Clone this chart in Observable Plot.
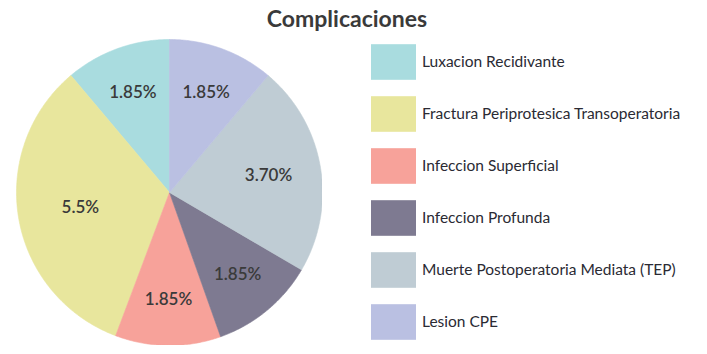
<!DOCTYPE html>
<html>
<head>
<meta charset="utf-8">
<script src="https://cdn.jsdelivr.net/npm/d3@7"></script>
<script src="https://cdn.jsdelivr.net/npm/@observablehq/plot@0.6"></script>
<style>
  html, body { margin: 0; padding: 0; background: #fff; }
  #wrap { position: relative; width: 707px; height: 354px; font-family: Lato, "Open Sans", sans-serif; }
  #title { position: absolute; left: 0; top: 4px; width: 694px; text-align: center; font-size: 23px; font-weight: 700; color: #3a3a3a; }
  #pie { position: absolute; left: 16px; top: 39px; }
  #legend { position: absolute; left: 360px; top: 0; }
</style>
</head>
<body>
<div id="wrap">
  <div id="title">Complicaciones</div>
  <div id="pie"></div>
  <div id="legend"></div>
</div>
<script>
const categories = ["Luxacion Recidivante", "Fractura Periprotesica Transoperatoria", "Infeccion Superficial", "Infeccion Profunda", "Muerte Postoperatoria Mediata (TEP)", "Lesion CPE"];
const values = [1.85, 5.5, 1.85, 1.85, 3.70, 1.85];
const valueLabels = ["1.85%", "5.5%", "1.85%", "1.85%", "3.70%", "1.85%"];
const colors = ["#a9dcdf", "#e8e69d", "#f7a29a", "#7e7a91", "#bfccd4", "#bac0e2"];

const rows = categories.map((c, i) => ({name: c, value: values[i], label: valueLabels[i]}));

// Pie angles: counter-clockwise from 12 o'clock, in category order
const arcs = d3.pie().sort(null).value(d => d.value).startAngle(0).endAngle(-2 * Math.PI)(rows);

const outline = [];
const centers = [];
for (const a of arcs) {
  const n = Math.max(2, Math.ceil(Math.abs(a.endAngle - a.startAngle) / (Math.PI / 360)));
  outline.push({name: a.data.name, x: 0, y: 0});
  for (let k = 0; k <= n; k++) {
    const t = a.startAngle + (a.endAngle - a.startAngle) * k / n;
    outline.push({name: a.data.name, x: Math.sin(t), y: Math.cos(t)});
  }
  outline.push({name: a.data.name, x: 0, y: 0});
  const half = Math.abs(a.endAngle - a.startAngle) / 2;
  const mid = (a.startAngle + a.endAngle) / 2;
  const d = 1.07 * 2 * Math.sin(half) / (3 * half);
  centers.push({label: a.data.label, x: d * Math.sin(mid), y: d * Math.cos(mid)});
}

const color = {domain: categories, range: colors};

const pie = Plot.plot({
  width: 306, height: 306,
  margin: 0,
  x: {domain: [-1, 1], axis: null},
  y: {domain: [-1, 1], axis: null},
  color,
  style: {fontFamily: "Lato, 'Open Sans', sans-serif", background: "transparent"},
  marks: [
    Plot.line(outline, {x: "x", y: "y", z: "name", fill: "name", stroke: "name", strokeWidth: 0.6, curve: "linear"}),
    Plot.text(centers, {x: "x", y: "y", text: "label", fontSize: 17, fontWeight: 600, fill: "#3a3a3a"})
  ]
});
document.getElementById("pie").appendChild(pie);

const legend = Plot.plot({
  width: 340, height: 354,
  marginLeft: 11, marginRight: 284, marginTop: 35, marginBottom: 5,
  x: {domain: ["box"], axis: null, padding: 0},
  y: {domain: categories, axis: null, padding: 0},
  color,
  style: {fontFamily: "Lato, 'Open Sans', sans-serif", background: "transparent"},
  marks: [
    Plot.cell(categories, {x: () => "box", y: d => d, fill: d => d, insetTop: 8.2, insetBottom: 8.2}),
    Plot.text(categories, {x: () => "box", y: d => d, text: d => d, textAnchor: "start", dx: 28, fontSize: 15.5, fill: "#2a2a33"})
  ]
});
document.getElementById("legend").appendChild(legend);
</script>
</body>
</html>
